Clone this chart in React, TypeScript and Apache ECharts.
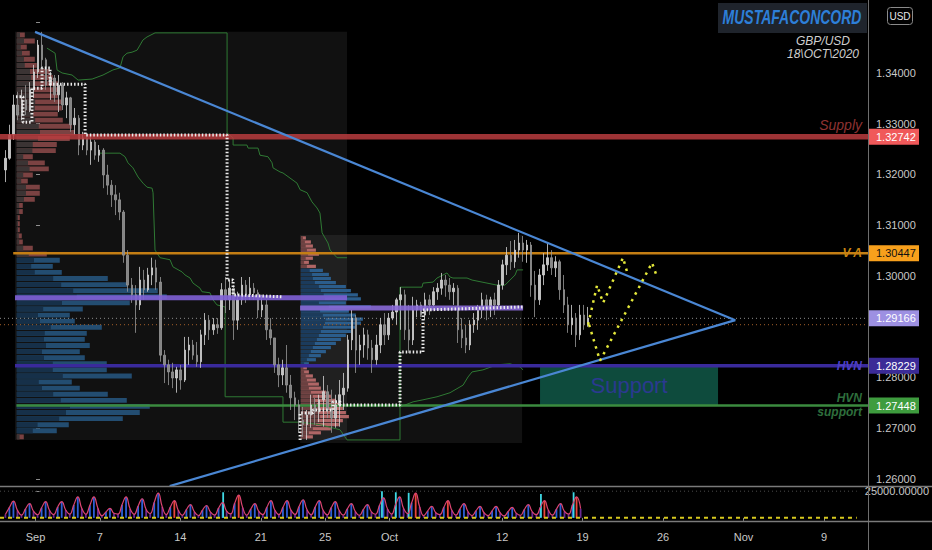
import React, { useEffect, useRef } from "react";
import * as echarts from "echarts";

// ---- price bars (6-hour bars, 4 per trading day, first bar on Aug 28) ----
const FIRST_DAY = -2; // trading-day index, Sep 1 = 0
const BARS_PER_DAY = 4;
const FIRST_OPEN = 1.3209;
const closes = [
  1.3232, 1.3278, 1.3337, 1.3317, 1.3347, 1.3327, 1.3367, 1.3402, 1.3455, 1.3426, 1.3376, 1.339,
  1.3357, 1.3376, 1.3337, 1.3351, 1.3298, 1.3311, 1.3258, 1.3272, 1.3248, 1.3264, 1.3238, 1.3248,
  1.3199, 1.3179, 1.316, 1.315, 1.3126, 1.3041, 1.2982, 1.2963, 1.2943, 1.2992, 1.2973, 1.3002,
  1.3016, 1.2988, 1.2844, 1.2825, 1.2811, 1.2799, 1.2815, 1.2795, 1.2854, 1.2864, 1.2844, 1.2831,
  1.2884, 1.2913, 1.2894, 1.2904, 1.2898, 1.2973, 1.2953, 1.2976, 1.2913, 1.2953, 1.2982, 1.2963,
  1.2976, 1.2967, 1.2933, 1.2943, 1.2894, 1.2878, 1.2825, 1.2805, 1.2819, 1.2785, 1.276, 1.2746,
  1.2716, 1.2707, 1.2726, 1.2746, 1.2732, 1.2756, 1.2772, 1.2736, 1.272, 1.2746, 1.2766, 1.2779,
  1.2874, 1.2917, 1.2854, 1.2864, 1.2884, 1.2858, 1.2835, 1.2864, 1.2904, 1.2884, 1.2917, 1.2929,
  1.2953, 1.2963, 1.2894, 1.2874, 1.2933, 1.2943, 1.2923, 1.2953, 1.2943, 1.2969, 1.2976, 1.2992,
  1.2982, 1.2969, 1.2976, 1.2894, 1.2878, 1.2864, 1.2904, 1.2913, 1.2933, 1.2953, 1.2933, 1.2953,
  1.2943, 1.2982, 1.3022, 1.3041, 1.3028, 1.3051, 1.3065, 1.3051, 1.3061, 1.2982, 1.2953, 1.3002,
  1.3022, 1.3036, 1.3016, 1.3028, 1.2973, 1.2943, 1.2904, 1.2917, 1.2884, 1.2923, 1.2904, 1.29166,
];
const lows = [
  1.3185, 1.3229, 1.3268, 1.3307, 1.3307, 1.3317, 1.3323, 1.3351, 1.339, 1.3406, 1.3367, 1.3347,
  1.3343, 1.3323, 1.3327, 1.3311, 1.3284, 1.3278, 1.3238, 1.3248, 1.3238, 1.3219, 1.3229, 1.3225,
  1.3173, 1.316, 1.3136, 1.312, 1.311, 1.3026, 1.2969, 1.2947, 1.2888, 1.2933, 1.2953, 1.2969,
  1.2982, 1.2973, 1.2831, 1.2789, 1.2785, 1.2779, 1.277, 1.2776, 1.2791, 1.2825, 1.2835, 1.2821,
  1.2819, 1.2864, 1.2874, 1.2884, 1.2886, 1.2894, 1.2927, 1.2933, 1.2874, 1.2894, 1.2943, 1.2947,
  1.2953, 1.2953, 1.2917, 1.2919, 1.2874, 1.2864, 1.2809, 1.2781, 1.2785, 1.277, 1.2736, 1.2716,
  1.2691, 1.2683, 1.2677, 1.2701, 1.2707, 1.2712, 1.2703, 1.272, 1.2691, 1.2701, 1.2703, 1.2736,
  1.2772, 1.2854, 1.2809, 1.2825, 1.2839, 1.2835, 1.2809, 1.2825, 1.2848, 1.2864, 1.2874, 1.2913,
  1.2904, 1.2894, 1.2874, 1.2848, 1.2864, 1.2919, 1.2919, 1.2913, 1.2923, 1.2941, 1.2953, 1.2963,
  1.2959, 1.2953, 1.2943, 1.2868, 1.2858, 1.2848, 1.2854, 1.2888, 1.2894, 1.2917, 1.2913, 1.2919,
  1.2923, 1.2939, 1.2973, 1.3002, 1.3012, 1.3016, 1.3036, 1.3028, 1.3026, 1.2959, 1.2919, 1.2943,
  1.2982, 1.301, 1.3002, 1.2998, 1.2953, 1.2927, 1.2888, 1.2884, 1.286, 1.2874, 1.2894, 1.29,
];
const highs = [
  1.3248, 1.3298, 1.3357, 1.3363, 1.3367, 1.3376, 1.3382, 1.3416, 1.3465, 1.3481, 1.343, 1.3402,
  1.3396, 1.3396, 1.3382, 1.3363, 1.3353, 1.3331, 1.3317, 1.3284, 1.3282, 1.3278, 1.3268, 1.3258,
  1.3252, 1.3219, 1.3189, 1.3179, 1.3164, 1.313, 1.3051, 1.2996, 1.2982, 1.3018, 1.3012, 1.3016,
  1.3036, 1.3032, 1.2998, 1.2854, 1.2835, 1.2829, 1.2821, 1.2825, 1.288, 1.288, 1.2874, 1.287,
  1.2894, 1.2927, 1.2923, 1.2917, 1.2917, 1.2986, 1.2998, 1.2992, 1.2982, 1.2969, 1.2998, 1.2992,
  1.2998, 1.2986, 1.2973, 1.2963, 1.2953, 1.2917, 1.2878, 1.2839, 1.2835, 1.2864, 1.2805, 1.2772,
  1.2756, 1.2742, 1.2736, 1.2766, 1.276, 1.2766, 1.2803, 1.2785, 1.2776, 1.2766, 1.2795, 1.2809,
  1.2884, 1.2933, 1.2923, 1.2884, 1.2898, 1.2894, 1.2874, 1.2884, 1.2917, 1.2927, 1.2927, 1.2943,
  1.2957, 1.2978, 1.2973, 1.2943, 1.2959, 1.2953, 1.2949, 1.2967, 1.2963, 1.2978, 1.2986, 1.3006,
  1.3002, 1.2996, 1.2986, 1.2982, 1.2917, 1.2904, 1.2913, 1.2927, 1.2943, 1.2967, 1.2963, 1.2959,
  1.2967, 1.2992, 1.3032, 1.3057, 1.3069, 1.3071, 1.3085, 1.3079, 1.3071, 1.3067, 1.301, 1.3014,
  1.3045, 1.3065, 1.3051, 1.3039, 1.3032, 1.3002, 1.2959, 1.2943, 1.2927, 1.2943, 1.2943, 1.2939,
];

// ---- volume pane ----
const volumes = [
  3200, 9800, 15700, 7100, 2600, 8400, 13400, 6200, 2900, 9500, 15200, 6900,
  3100, 10200, 15200, 7400, 3500, 12100, 19600, 8800, 3400, 11800, 19600, 9100,
  2000, 5600, 8900, 4300, 3600, 12400, 19600, 8500, 3300, 11100, 17900, 7900,
  4100, 14500, 23200, 10300, 3000, 10100, 16100, 7000, 2400, 7800, 12500, 5600,
  2200, 7300, 11600, 5300, 2700, 9200, 14300, 6400, 3800, 13600, 21400, 9600,
  2500, 8300, 13400, 6100, 3000, 10000, 16100, 7200, 3000, 9900, 16100, 7300,
  3200, 10600, 17000, 7600, 2900, 10100, 16100, 7100, 2800, 9600, 15200, 6800,
  2500, 8400, 13400, 6000, 2300, 7900, 12500, 5700, 3400, 11600, 18800, 8300,
  3500, 12300, 19600, 8700, 4000, 14200, 23200, 10200, 2100, 6600, 10700, 4800,
  3000, 10000, 16100, 7100, 2500, 8400, 13400, 6000, 2100, 6700, 10700, 4800,
  2100, 6600, 10700, 4900, 1900, 6100, 9800, 4400, 2300, 7800, 12500, 5600,
  3000, 10000, 16100, 7200, 2500, 8300, 13400, 6000, 3500, 12200, 19600, 8600,
];
const redVolumeBars = [42, 58, 102, 110, 134, 142];
const spikeDays = [11.66, 21.53, 22.39, 23.19, 31.41, 33.44];
const spikeVolumes = [24000, 25000, 24000, 23500, 22300, 24000];

// ---- axes ----
const dateTicks = [0, 4, 9, 14, 18, 22, 29, 34, 39, 44, 49];
const dateLabels = ["Sep", "7", "14", "21", "25", "Oct", "12", "19", "26", "Nov", "9"];
const priceTicks = [1.26, 1.27, 1.28, 1.29, 1.3, 1.31, 1.32, 1.33, 1.34, 1.35];
// 1.29000 and 1.35000 sit under the last-price tag and the currency badge
const priceLabels = [1.26, 1.27, 1.28, 1.3, 1.31, 1.32, 1.33, 1.34];
const volumeTicks = [25000];

// ---- levels ----
const SUPPLY = 1.32742;
const VALUE_AREA = 1.30447;
const LAST_PRICE = 1.29166;
const PREV_CLOSE = 1.2904;
const HVN = 1.28229;
const HVN_SUPPORT = 1.27448;
const tagPrices = [SUPPLY, VALUE_AREA, LAST_PRICE, HVN, HVN_SUPPORT];
const noteTexts = ["Supply", "V A", "HVN", "HVN", "support"];
const notePrices = [SUPPLY, VALUE_AREA, HVN, HVN_SUPPORT, HVN_SUPPORT];

// ---- volume profiles (rows from the top price down) ----
const leftProfileTop = 1.3475;
const leftProfileVolumes = [
  8, 18, 10, 13, 18, 20, 33, 36, 41, 43, 41, 46, 45, 41, 46, 55, 58, 53, 40, 39, 16, 28, 32, 16,
  11, 23, 23, 18, 6, 6, 3, 3, 3, 5, 6, 16, 30, 43, 36, 45, 91, 111, 141, 150, 113, 66, 53, 58, 85,
  70, 68, 73, 63, 68, 90, 90, 115, 55, 63, 91, 110, 133, 123, 106, 52, 40, 7,
];
const leftProfileKinds = "rrrrrrrrrrrrrrrrrrrrrrrrrrrrrrrrrrrrrbbbbbbbbbbbbbbbbbbbbbbbbbbbbbr";
const rightProfileTop = 1.3075;
const rightProfileVolumes = [
  5, 10, 12, 15, 18, 12, 8, 15, 22, 28, 30, 35, 45, 50, 57, 60, 45, 70, 48, 55, 62, 60, 55, 50, 45,
  40, 35, 30, 25, 20, 15, 8, 6, 8, 12, 15, 18, 20, 25, 30, 35, 40, 42, 45, 48, 42, 38, 30, 20, 12,
];
const rightProfileKinds = "rrrrrrrrbbbbbbbbbbbbbbbbbbbbbbbbrrrrrrrrrrrrrrrrrr";
const profileRanges = [
  [-1.29, 1.3481, 19.08, 1.2677],
  [16.2, 1.3081, 29.82, 1.2671],
];
const pocA = [[-1.29, 1.2957], [19.08, 1.2957]];
const pocB = [[16.2, 1.2937], [29.88, 1.2937]];

// ---- channel steps (green) ----
const channelUpperA = [
  [0.67, 1.3449], [1.17, 1.3439], [1.29, 1.3406], [1.6, 1.34], [2.21, 1.3396], [2.58, 1.3386],
  [3.44, 1.3388], [4.11, 1.3396], [4.72, 1.3406], [5.15, 1.341], [5.34, 1.3432], [5.58, 1.3439],
  [5.89, 1.3441], [6.2, 1.3445], [6.38, 1.3455], [6.56, 1.3465], [6.81, 1.3471], [7.3, 1.3479],
  [11.72, 1.3479], [11.72, 1.3282], [12.09, 1.3272], [12.09, 1.3258], [12.94, 1.3258],
  [13.01, 1.3252], [13.62, 1.3252], [13.74, 1.3238], [14.23, 1.3235], [14.48, 1.3223],
  [14.54, 1.3213], [14.97, 1.3205], [15.15, 1.3203], [15.58, 1.3193], [16.01, 1.3183],
  [16.2, 1.317], [16.63, 1.3164], [16.93, 1.3146], [17.24, 1.3134], [17.42, 1.3124],
  [17.55, 1.3085], [17.91, 1.3065], [18.04, 1.3051], [18.47, 1.3036], [19.08, 1.3036],
];
const channelLower = [
  [3.93, 1.3242], [5.15, 1.3242], [5.46, 1.3235], [5.64, 1.3223], [5.95, 1.3213], [6.26, 1.3195],
  [6.56, 1.3183], [6.81, 1.3175], [7.12, 1.3173], [7.18, 1.3164], [7.3, 1.3051], [7.61, 1.3036],
  [8.22, 1.3032], [8.4, 1.3018], [8.96, 1.3008], [9.14, 1.3002], [9.45, 1.2996], [9.63, 1.2986],
  [10.06, 1.2976], [10.18, 1.2969], [10.67, 1.2967], [10.86, 1.2953], [11.1, 1.2943],
  [11.6, 1.2939], [11.6, 1.2762], [15.15, 1.2762], [15.15, 1.2712], [16.2, 1.2712],
  [17.42, 1.2707], [18.65, 1.2697], [19.08, 1.2677], [22.33, 1.2677], [22.33, 1.2742],
  [23.13, 1.2752], [23.74, 1.2756], [24.6, 1.2762], [25.4, 1.277], [26.2, 1.2785], [26.5, 1.2801],
  [26.75, 1.2811], [27.42, 1.2815], [28.28, 1.2825], [29.08, 1.2827], [29.69, 1.2821],
  [29.88, 1.2815],
];
const channelUpperB = [
  [22.33, 1.2742], [22.33, 1.2978], [23.68, 1.2978], [23.74, 1.2986], [24.36, 1.2988],
  [24.6, 1.2996], [24.97, 1.3002], [25.21, 1.3006], [25.4, 1.2998], [25.58, 1.2996],
  [26.44, 1.2996], [26.75, 1.2992], [27.36, 1.2988], [28.28, 1.2982], [28.77, 1.2982],
  [29.08, 1.2992], [29.39, 1.3002], [29.51, 1.3012], [29.88, 1.3012],
];

// ---- stepped dotted levels (white) ----
const dottedStepsA = [
  [-1.23, 1.3353], [-0.8, 1.3353], [-0.8, 1.3303], [-0.25, 1.3303], [-0.25, 1.337], [0.37, 1.337],
  [0.37, 1.341], [0.86, 1.341], [0.86, 1.3378], [3.01, 1.3378], [3.01, 1.3278], [11.72, 1.3278],
  [11.72, 1.2992], [12.09, 1.2992], [12.09, 1.2963], [15.15, 1.2959],
];
const dottedStepsB = [
  [16.2, 1.2677], [16.2, 1.273], [16.99, 1.273], [16.99, 1.2736], [18.22, 1.2736], [18.22, 1.2752],
  [18.65, 1.2752], [18.65, 1.2746], [22.33, 1.2746], [22.33, 1.285], [23.74, 1.285],
  [23.74, 1.2933], [29.88, 1.2939],
];

// ---- triangle and projected path ----
const triangleUpper = [[-0.06, 1.3481], [42.9, 1.2913]];
const triangleLower = [[8.2, 1.2586], [42.9, 1.2913]];
const projectionA = [[33.87, 1.2904], [34.42, 1.2982], [34.79, 1.2947], [36.01, 1.3036], [36.26, 1.3008]];
const projectionB = [[33.93, 1.2904], [34.6, 1.2833], [37.79, 1.3026], [38.1, 1.2998]];
const supportZone = [30.92, HVN, 41.84, HVN_SUPPORT];

// ---- layout / style ----
const X_MIN = -2.21;
const X_MAX = 51.04;
const Y_MIN = 1.25862;
const Y_MAX = 1.35438;
const FONT = '"Liberation Sans", Arial, sans-serif';
const AXIS_TEXT = "#c8c8c8";
const tagBg = ["#f0595a", "#f8a01c", "#9d90e2", "#3b2b97", "#3e9c3e"];
const tagFg = ["#ffffff", "#111111", "#ffffff", "#ffffff", "#ffffff"];
const noteColor = ["#8e3232", "#c98412", "#4d3fc4", "#2e6e3c", "#2e6e3c"];
const noteSize = [14, 12, 12, 12, 12];
const noteOffset = [-12, 0, 0, -8, 6];

const barX = (i: number) => FIRST_DAY + (i + 0.5) / BARS_PER_DAY;

function profileSeries(top: number, step: number, vols: number[], kinds: string, startX: number, pal: string[]) {
  return {
    type: "custom",
    xAxisIndex: 0,
    yAxisIndex: 0,
    silent: true,
    z: 2,
    encode: { x: 0, y: 1 },
    data: vols.map((v, k) => [startX, top - k * step, v, kinds[k] === "b" ? 1 : 0]),
    renderItem: (_p: any, api: any) => {
      const x = api.value(0);
      const p = api.value(1);
      const blue = api.value(3) === 1;
      const a = api.coord([x, p + step * 0.4]);
      const b = api.coord([x, p - step * 0.4]);
      const w = api.value(2);
      const h = Math.max(1, b[1] - a[1]);
      return {
        type: "group",
        children: [
          { type: "rect", shape: { x: a[0], y: a[1], width: w, height: h }, style: { fill: blue ? pal[2] : pal[0] } },
          { type: "rect", shape: { x: a[0], y: a[1], width: w * 0.4, height: h }, style: { fill: blue ? pal[3] : pal[1] } },
        ],
      };
    },
  };
}

function polyline(data: number[][], color: string, width: number, z: number, type: any = "solid", opacity = 1) {
  return {
    type: "line",
    xAxisIndex: 0,
    yAxisIndex: 0,
    data,
    silent: true,
    showSymbol: false,
    symbol: "none",
    z,
    lineStyle: { color, width, type, opacity },
  };
}

function buildOption(): any {
  const candles = closes.map((c, i) => [barX(i), i === 0 ? FIRST_OPEN : closes[i - 1], c, lows[i], highs[i]]);
  const volData = volumes.map((v, i) => {
    const k = i % BARS_PER_DAY;
    const color = redVolumeBars.includes(i) ? "#e8453c" : k === 1 || k === 2 ? "#2d5fd6" : "#6a2893";
    return { value: [barX(i), v], itemStyle: { color } };
  });

  return {
    animation: false,
    backgroundColor: "#000000",
    textStyle: { fontFamily: FONT },
    grid: [
      { left: 0, right: 64, top: 0, bottom: 64 },
      { left: 0, right: 64, top: 488, bottom: 30 },
    ],
    xAxis: [
      { gridIndex: 0, type: "value", min: X_MIN, max: X_MAX, show: false },
      {
        gridIndex: 1,
        type: "value",
        min: X_MIN,
        max: X_MAX,
        axisLine: { show: false },
        splitLine: { show: false },
        axisTick: { show: true, customValues: dateTicks, length: 3, lineStyle: { color: "#8a8a8a" } },
        axisLabel: {
          customValues: dateTicks,
          color: AXIS_TEXT,
          fontSize: 11,
          fontFamily: FONT,
          margin: 11,
          formatter: (v: number) => {
            const i = dateTicks.findIndex((t) => Math.abs(t - v) < 1e-6);
            return i >= 0 ? dateLabels[i] : "";
          },
        },
      },
    ],
    yAxis: [
      {
        gridIndex: 0,
        type: "value",
        position: "right",
        min: Y_MIN,
        max: Y_MAX,
        splitLine: { show: false },
        axisLine: { show: false },
        axisTick: { show: true, customValues: priceTicks, length: 4, lineStyle: { color: "#8a8a8a" } },
        axisLabel: {
          customValues: priceLabels,
          color: AXIS_TEXT,
          fontSize: 11,
          fontFamily: FONT,
          margin: 8,
          formatter: (v: number) => v.toFixed(5),
        },
      },
      {
        gridIndex: 1,
        type: "value",
        position: "right",
        min: -2000,
        max: 28000,
        splitLine: { show: false },
        axisLine: { show: false },
        axisTick: { show: true, customValues: volumeTicks, length: 4, lineStyle: { color: "#8a8a8a" } },
        axisLabel: {
          customValues: volumeTicks,
          color: AXIS_TEXT,
          fontSize: 11,
          fontFamily: FONT,
          margin: 8,
          formatter: (v: number) => v.toFixed(5),
        },
      },
    ],
    series: [
      // profile background boxes
      {
        type: "custom",
        xAxisIndex: 0,
        yAxisIndex: 0,
        silent: true,
        z: 1,
        encode: { x: [0, 2], y: [1, 3] },
        data: profileRanges,
        renderItem: (_p: any, api: any) => {
          const a = api.coord([api.value(0), api.value(1)]);
          const b = api.coord([api.value(2), api.value(3)]);
          return {
            type: "rect",
            shape: { x: a[0], y: a[1], width: b[0] - a[0], height: b[1] - a[1] },
            style: { fill: "rgba(255,255,255,0.065)" },
          };
        },
      },
      profileSeries(leftProfileTop, 0.0012, leftProfileVolumes, leftProfileKinds, -1.18, ["#7b4242", "#3b3434", "#234d71", "#163049"]),
      profileSeries(rightProfileTop, 0.0008, rightProfileVolumes, rightProfileKinds, 16.25, ["#b06666", "#6b4040", "#2b5d8c", "#1b3b5c"]),
      // support zone
      {
        type: "custom",
        xAxisIndex: 0,
        yAxisIndex: 0,
        silent: true,
        z: 2,
        encode: { x: [0, 2], y: [1, 3] },
        data: [supportZone],
        renderItem: (_p: any, api: any) => {
          const a = api.coord([api.value(0), api.value(1)]);
          const b = api.coord([api.value(2), api.value(3)]);
          return {
            type: "rect",
            shape: { x: a[0], y: a[1], width: b[0] - a[0], height: b[1] - a[1] },
            style: { fill: "#0e4b3d" },
          };
        },
      },
      // channel steps
      polyline(channelUpperA, "#2f7a34", 1, 3),
      polyline(channelLower, "#2f7a34", 1, 3),
      polyline(channelUpperB, "#2f7a34", 1, 3),
      // levels
      polyline([[X_MIN, LAST_PRICE], [X_MAX, LAST_PRICE]], "#8e8e8e", 1, 3, [1, 3]),
      polyline([[X_MIN, PREV_CLOSE], [X_MAX, PREV_CLOSE]], "#a4602a", 1, 3, [1, 3]),
      polyline([[-1.4, VALUE_AREA], [X_MAX, VALUE_AREA]], "#c47e14", 2.5, 4),
      polyline([[-1.29, HVN], [X_MAX, HVN]], "#3a2a9c", 3.5, 4),
      polyline([[-1.2, HVN_SUPPORT], [X_MAX, HVN_SUPPORT]], "#3b8b3f", 2.5, 4),
      // candles
      {
        type: "candlestick",
        xAxisIndex: 0,
        yAxisIndex: 0,
        silent: true,
        z: 5,
        barWidth: 2,
        encode: { x: 0, y: [1, 2, 3, 4] },
        data: candles,
        itemStyle: { color: "#c4c4c4", color0: "#858585", borderColor: "#d6d6d6", borderColor0: "#989898", borderWidth: 0.8 },
      },
      polyline([[X_MIN, SUPPLY], [X_MAX, SUPPLY]], "#b83c3e", 5.5, 6, "solid", 0.85),
      polyline(pocA, "#8060d6", 5, 6, "solid", 0.9),
      polyline(pocB, "#8a6ad8", 5, 6, "solid", 0.9),
      polyline(dottedStepsA, "#ececec", 3, 7, [1.5, 2]),
      polyline(dottedStepsB, "#ececec", 3, 7, [1.5, 2]),
      polyline(triangleUpper, "#4a87d4", 2.2, 8),
      polyline(triangleLower, "#4a87d4", 2.2, 8),
      polyline(projectionA, "#e4e83a", 2.5, 8, [2.5, 5]),
      polyline(projectionB, "#e4e83a", 2.5, 8, [2.5, 5]),
      // level notes
      {
        type: "custom",
        xAxisIndex: 0,
        yAxisIndex: 0,
        silent: true,
        z: 9,
        encode: { x: 0, y: 1 },
        data: notePrices.map((p) => [X_MAX, p]),
        renderItem: (params: any, api: any) => {
          const i = params.dataIndex;
          const c = api.coord([api.value(0), api.value(1)]);
          return {
            type: "text",
            x: c[0] - 6,
            y: c[1] + noteOffset[i],
            style: {
              text: noteTexts[i],
              fill: noteColor[i],
              font: `italic ${i === 0 ? "normal" : "bold"} ${noteSize[i]}px ${FONT}`,
              align: "right",
              verticalAlign: "middle",
            },
          };
        },
      },
      // price tags on the scale
      {
        type: "custom",
        xAxisIndex: 0,
        yAxisIndex: 0,
        silent: true,
        clip: false,
        z: 20,
        encode: { x: 0, y: 1 },
        data: tagPrices.map((p) => [X_MAX, p]),
        renderItem: (params: any, api: any) => {
          const i = params.dataIndex;
          const c = api.coord([api.value(0), api.value(1)]);
          return {
            type: "group",
            children: [
              { type: "rect", shape: { x: c[0] + 1, y: c[1] - 8, width: 50, height: 16 }, style: { fill: tagBg[i] } },
              {
                type: "text",
                x: c[0] + 8,
                y: c[1],
                style: { text: api.value(1).toFixed(5), fill: tagFg[i], font: `11px ${FONT}`, align: "left", verticalAlign: "middle" },
              },
            ],
          };
        },
      },
      // volume pane
      {
        type: "bar",
        xAxisIndex: 1,
        yAxisIndex: 1,
        silent: true,
        barWidth: 1.8,
        barGap: "-100%",
        data: volData,
      },
      {
        type: "bar",
        xAxisIndex: 1,
        yAxisIndex: 1,
        silent: true,
        barWidth: 1.8,
        barGap: "-100%",
        data: spikeDays.map((d, i) => [d, spikeVolumes[i]]),
        itemStyle: { color: "#3fd8e4" },
      },
      {
        type: "line",
        xAxisIndex: 1,
        yAxisIndex: 1,
        silent: true,
        smooth: 0.5,
        showSymbol: false,
        symbol: "none",
        data: volumes.map((v, i) => [barX(i), v]),
        lineStyle: { color: "#dc4572", width: 1.2 },
        z: 4,
      },
      {
        type: "line",
        xAxisIndex: 1,
        yAxisIndex: 1,
        silent: true,
        showSymbol: false,
        symbol: "none",
        data: [[X_MIN, 0], [X_MAX, 0]],
        lineStyle: { color: "#d6c81e", width: 2, type: [4, 4] },
        z: 5,
      },
      {
        type: "line",
        xAxisIndex: 1,
        yAxisIndex: 1,
        silent: true,
        showSymbol: false,
        symbol: "none",
        data: [[X_MIN, 25000], [X_MAX, 25000]],
        lineStyle: { color: "#4a4a4a", width: 1, type: [1, 3] },
        z: 1,
      },
    ],
    graphic: [
      { type: "line", z: 50, shape: { x1: 868.5, y1: 0, x2: 868.5, y2: 550 }, style: { stroke: "#6e6e6e", lineWidth: 1 } },
      { type: "line", z: 50, shape: { x1: 0, y1: 486.5, x2: 932, y2: 486.5 }, style: { stroke: "#7a7a7a", lineWidth: 1.5 } },
      { type: "line", z: 50, shape: { x1: 0, y1: 521.5, x2: 932, y2: 521.5 }, style: { stroke: "#7a7a7a", lineWidth: 1.5 } },
      { type: "rect", z: 50, shape: { x: 718, y: 3, width: 149, height: 30 }, style: { fill: "#1f242c" } },
      {
        type: "text",
        z: 51,
        x: 792,
        y: 17,
        scaleX: 0.7,
        style: { text: "MUSTAFACONCORD", fill: "#2d7fd8", font: `italic bold 20px ${FONT}`, align: "center", verticalAlign: "middle" },
      },
      {
        type: "text",
        z: 51,
        x: 823,
        y: 41,
        style: { text: "GBP/USD", fill: "#cfcfcf", font: `italic 12px ${FONT}`, align: "center", verticalAlign: "middle" },
      },
      {
        type: "text",
        z: 51,
        x: 823,
        y: 54,
        style: { text: "18\\OCT\\2020", fill: "#cfcfcf", font: `italic 12px ${FONT}`, align: "center", verticalAlign: "middle" },
      },
      { type: "rect", z: 50, shape: { x: 887.5, y: 7.5, width: 25, height: 17, r: 3 }, style: { fill: "#000000", stroke: "#8a8a8a", lineWidth: 1 } },
      {
        type: "text",
        z: 51,
        x: 900,
        y: 16,
        style: { text: "USD", fill: "#e6e6e6", font: `10px ${FONT}`, align: "center", verticalAlign: "middle" },
      },
    ],
  };
}

export default function App() {
  const ref = useRef<HTMLDivElement>(null);
  useEffect(() => {
    if (!ref.current) return;
    document.body.style.margin = "0";
    document.body.style.background = "#000";
    const chart = echarts.init(ref.current, undefined, { renderer: "svg" });
    chart.setOption(buildOption());
    // zone caption, centred on the support zone through the price scales
    const a = chart.convertToPixel({ gridIndex: 0 }, [supportZone[0], supportZone[1]]) as number[];
    const b = chart.convertToPixel({ gridIndex: 0 }, [supportZone[2], supportZone[3]]) as number[];
    chart.setOption({
      graphic: [
        {
          type: "text",
          id: "zoneCaption",
          z: 40,
          x: (a[0] + b[0]) / 2,
          y: (a[1] + b[1]) / 2,
          style: {
            text: "Support",
            fill: "#2b3a90",
            fontFamily: "Liberation Sans",
            fontSize: 22,
            align: "center",
            verticalAlign: "middle",
          },
        },
      ],
    });
    return () => chart.dispose();
  }, []);
  return <div ref={ref} style={{ position: "fixed", left: 0, top: 0, width: 932, height: 550, background: "#000" }} />;
}
